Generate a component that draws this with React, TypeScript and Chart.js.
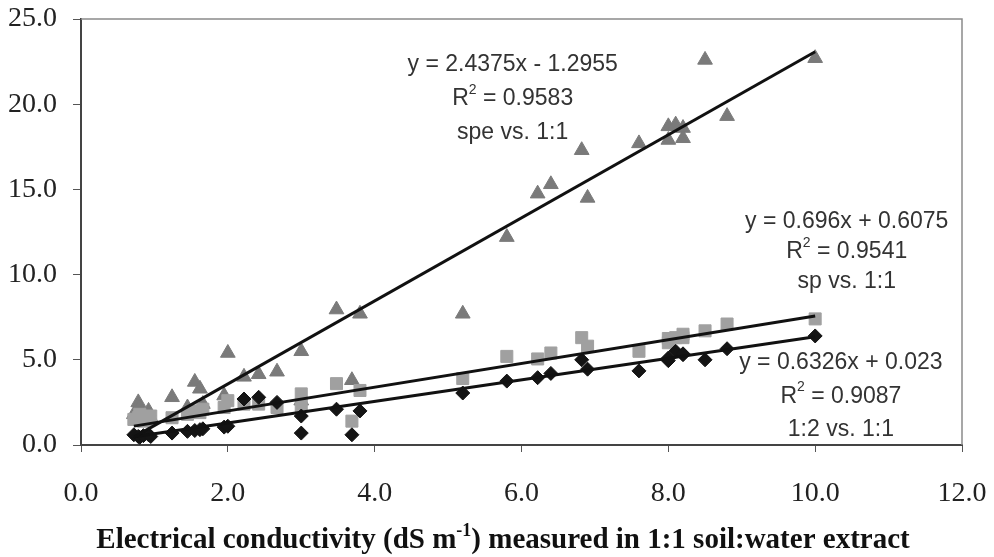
import React, { useEffect, useRef } from "react";
import { Chart, registerables } from "chart.js";

Chart.register(...registerables);

// EC measured in 1:1 soil:water extract (x)
const ecOneToOne = [0.72, 0.78, 0.8, 0.85, 0.92, 0.95, 1.24, 1.45, 1.55, 1.62, 1.66, 1.95, 2.0, 2.22, 2.42, 2.67, 3.0, 3.0, 3.48, 3.69, 3.8, 5.2, 5.8, 6.22, 6.4, 6.82, 6.9, 7.6, 8.0, 8.0, 8.1, 8.2, 8.2, 8.5, 8.8, 10.0];
// EC of saturated paste extract (triangles)
const ecSpe = [1.8, 2.5, 2.2, 1.7, 2.0, 1.6, 2.8, 2.2, 3.7, 3.3, 2.4, 2.9, 5.4, 4.0, 4.15, 4.3, 5.5, 2.6, 7.95, 3.8, 7.7, 7.7, 12.2, 14.75, 15.3, 17.3, 14.5, 17.7, 18.7, 17.9, 18.8, 18.0, 18.6, 22.6, 19.3, 22.7];
// EC of saturated paste (squares)
const ecSp = [1.5, 1.6, 1.8, 1.4, 1.5, 1.7, 1.6, 1.8, 2.0, 1.9, 2.1, 2.2, 2.6, 2.4, 2.4, 2.2, 3.0, 2.3, 3.6, 1.4, 3.2, 3.9, 5.2, 5.05, 5.4, 6.3, 5.8, 5.5, 6.25, 6.0, 6.3, 6.5, 6.3, 6.7, 7.1, 7.4];
// EC of 1:2 extract (diamonds)
const ecOneToTwo = [0.6, 0.5, 0.45, 0.55, 0.6, 0.5, 0.7, 0.8, 0.85, 0.9, 0.95, 1.05, 1.1, 2.7, 2.8, 2.5, 1.7, 0.7, 2.1, 0.6, 2.0, 3.05, 3.75, 3.95, 4.2, 5.0, 4.45, 4.35, 4.95, 5.1, 5.5, 5.3, 5.35, 5.0, 5.65, 6.4];

// Linear trend lines (spe, sp, 1:2)
const fitSlopes = [2.4375, 0.696, 0.6326];
const fitIntercepts = [-1.2955, 0.6075, 0.023];
const fitEquations = ["y = 2.4375x - 1.2955", "y = 0.696x + 0.6075", "y = 0.6326x + 0.023"];
const fitR2 = ["0.9583", "0.9541", "0.9087"];
const fitNames = ["spe vs. 1:1", "sp vs. 1:1", "1:2 vs. 1:1"];

// Label anchors in data coordinates (first line centre), and line spacing in px
const labelAnchorX = [5.88, 10.43, 10.35];
const labelAnchorY = [22.3, 13.09, 4.81];
const labelSpacing = [34, 30, 33.5];

const xTickValues = [0, 2, 4, 6, 8, 10, 12];
const yTickValues = [0, 5, 10, 15, 20, 25];

const titleMain = "Electrical conductivity (dS m";
const titleSup = "-1";
const titleEnd = ") measured in 1:1 soil:water extract";

const SANS = "'Liberation Sans', Arial, sans-serif";
const SERIF = "'Liberation Serif', 'Times New Roman', serif";

function pts(ys: number[]) {
  return ecOneToOne.map((x, i) => ({ x, y: ys[i] }));
}

function fitLine(i: number) {
  const xmin = Math.min(...ecOneToOne);
  const xmax = Math.max(...ecOneToOne);
  return [
    { x: xmin, y: fitSlopes[i] * xmin + fitIntercepts[i] },
    { x: xmax, y: fitSlopes[i] * xmax + fitIntercepts[i] },
  ];
}

function zeroPadding(s: any) {
  s.paddingLeft = 0;
  s.paddingRight = 0;
  s.paddingTop = 0;
  s.paddingBottom = 0;
}

const decorPlugin = {
  id: "decor",
  beforeDatasetsDraw(chart: any) {
    const { ctx, chartArea: a } = chart;
    ctx.save();
    ctx.strokeStyle = "#8a8a8a";
    ctx.lineWidth = 1.5;
    ctx.beginPath();
    ctx.moveTo(a.left, a.top);
    ctx.lineTo(a.right, a.top);
    ctx.lineTo(a.right, a.bottom);
    ctx.stroke();
    ctx.restore();
  },
  afterDatasetsDraw(chart: any) {
    const { ctx } = chart;
    const xs = chart.scales.x;
    const ys = chart.scales.y;
    ctx.save();
    ctx.fillStyle = "#333333";
    ctx.textBaseline = "middle";
    ctx.textAlign = "left";
    const big = `23px ${SANS}`;
    const small = `14px ${SANS}`;
    for (let i = 0; i < fitEquations.length; i++) {
      const cx = xs.getPixelForValue(labelAnchorX[i]);
      const cy = ys.getPixelForValue(labelAnchorY[i]);
      const sp = labelSpacing[i];
      ctx.font = big;
      let w = ctx.measureText(fitEquations[i]).width;
      ctx.fillText(fitEquations[i], cx - w / 2, cy);
      // R^2 line
      const r = "R";
      const rest = " = " + fitR2[i];
      ctx.font = big;
      const wr = ctx.measureText(r).width;
      const wrest = ctx.measureText(rest).width;
      ctx.font = small;
      const ws = ctx.measureText("2").width;
      const total = wr + ws + wrest;
      const sx = cx - total / 2;
      ctx.font = big;
      ctx.fillText(r, sx, cy + sp);
      ctx.font = small;
      ctx.fillText("2", sx + wr, cy + sp - 9);
      ctx.font = big;
      ctx.fillText(rest, sx + wr + ws, cy + sp);
      // name line
      w = ctx.measureText(fitNames[i]).width;
      ctx.fillText(fitNames[i], cx - w / 2, cy + 2 * sp);
    }
    ctx.restore();
  },
  afterDraw(chart: any) {
    const { ctx } = chart;
    ctx.save();
    ctx.fillStyle = "#111111";
    ctx.textBaseline = "alphabetic";
    ctx.textAlign = "left";
    const big = `bold 29px ${SERIF}`;
    const small = `bold 18px ${SERIF}`;
    ctx.font = big;
    const w1 = ctx.measureText(titleMain).width;
    const w3 = ctx.measureText(titleEnd).width;
    ctx.font = small;
    const w2 = ctx.measureText(titleSup).width;
    const total = w1 + w2 + w3;
    const cx = 503;
    const base = 548;
    const x = cx - total / 2;
    ctx.font = big;
    ctx.fillText(titleMain, x, base);
    ctx.font = small;
    ctx.fillText(titleSup, x + w1, base - 12);
    ctx.font = big;
    ctx.fillText(titleEnd, x + w1 + w2, base);
    ctx.restore();
  },
};

export default function App() {
  const ref = useRef<HTMLCanvasElement | null>(null);

  useEffect(() => {
    if (!ref.current) return;
    const markerColors = ["#7a7a7a", "#a0a0a0", "#141414"];
    const chart = new Chart(ref.current, {
      type: "scatter",
      data: {
        datasets: [
          {
            label: "fit spe",
            type: "line",
            data: fitLine(0),
            borderColor: "#111111",
            borderWidth: 3,
            pointRadius: 0,
            fill: false,
            order: 0,
          } as any,
          {
            label: "fit sp",
            type: "line",
            data: fitLine(1),
            borderColor: "#111111",
            borderWidth: 3,
            pointRadius: 0,
            fill: false,
            order: 0,
          } as any,
          {
            label: "fit 1:2",
            type: "line",
            data: fitLine(2),
            borderColor: "#111111",
            borderWidth: 3,
            pointRadius: 0,
            fill: false,
            order: 0,
          } as any,
          {
            label: "1:2",
            data: pts(ecOneToTwo),
            pointStyle: "rectRot",
            pointRadius: 7,
            backgroundColor: markerColors[2],
            borderColor: markerColors[2],
            borderWidth: 1,
            order: 1,
          },
          {
            label: "sp",
            data: pts(ecSp),
            pointStyle: "rect",
            pointRadius: 8.5,
            backgroundColor: markerColors[1],
            borderColor: markerColors[1],
            borderWidth: 1,
            order: 2,
          },
          {
            label: "spe",
            data: pts(ecSpe),
            pointStyle: "triangle",
            pointRadius: 8.5,
            backgroundColor: markerColors[0],
            borderColor: markerColors[0],
            borderWidth: 1,
            order: 3,
          },
        ],
      },
      options: {
        responsive: false,
        animation: false,
        layout: { autoPadding: false, padding: { left: 0, top: 19, right: 32, bottom: 0 } },
        plugins: {
          legend: { display: false },
          tooltip: { enabled: false },
        },
        scales: {
          x: {
            type: "linear",
            min: 0,
            max: 12,
            afterFit: (s: any) => {
              s.height = 112;
              zeroPadding(s);
            },
            afterBuildTicks: (s: any) => {
              s.ticks = xTickValues.map((v) => ({ value: v }));
            },
            ticks: {
              color: "#222222",
              font: { family: SERIF, size: 28 },
              padding: 25,
              maxRotation: 0,
              callback: (v: any) => Number(v).toFixed(1),
            },
            grid: { drawOnChartArea: false, drawTicks: true, tickLength: 7, color: "#555555", lineWidth: 1 },
            border: { display: true, color: "#444444", width: 2 },
          },
          y: {
            type: "linear",
            min: 0,
            max: 25,
            afterFit: (s: any) => {
              s.width = 81;
              zeroPadding(s);
            },
            afterBuildTicks: (s: any) => {
              s.ticks = yTickValues.map((v) => ({ value: v }));
            },
            ticks: {
              color: "#222222",
              font: { family: SERIF, size: 28 },
              padding: 16,
              callback: (v: any) => Number(v).toFixed(1),
            },
            grid: { drawOnChartArea: false, drawTicks: true, tickLength: 8, color: "#555555", lineWidth: 1 },
            border: { display: true, color: "#444444", width: 2 },
          },
        },
      },
      plugins: [decorPlugin],
    });
    return () => chart.destroy();
  }, []);

  return (
    <div style={{ position: "absolute", left: 0, top: 0, width: 994, height: 557, background: "#ffffff" }}>
      <canvas ref={ref} width={994} height={557} style={{ display: "block" }} />
    </div>
  );
}
